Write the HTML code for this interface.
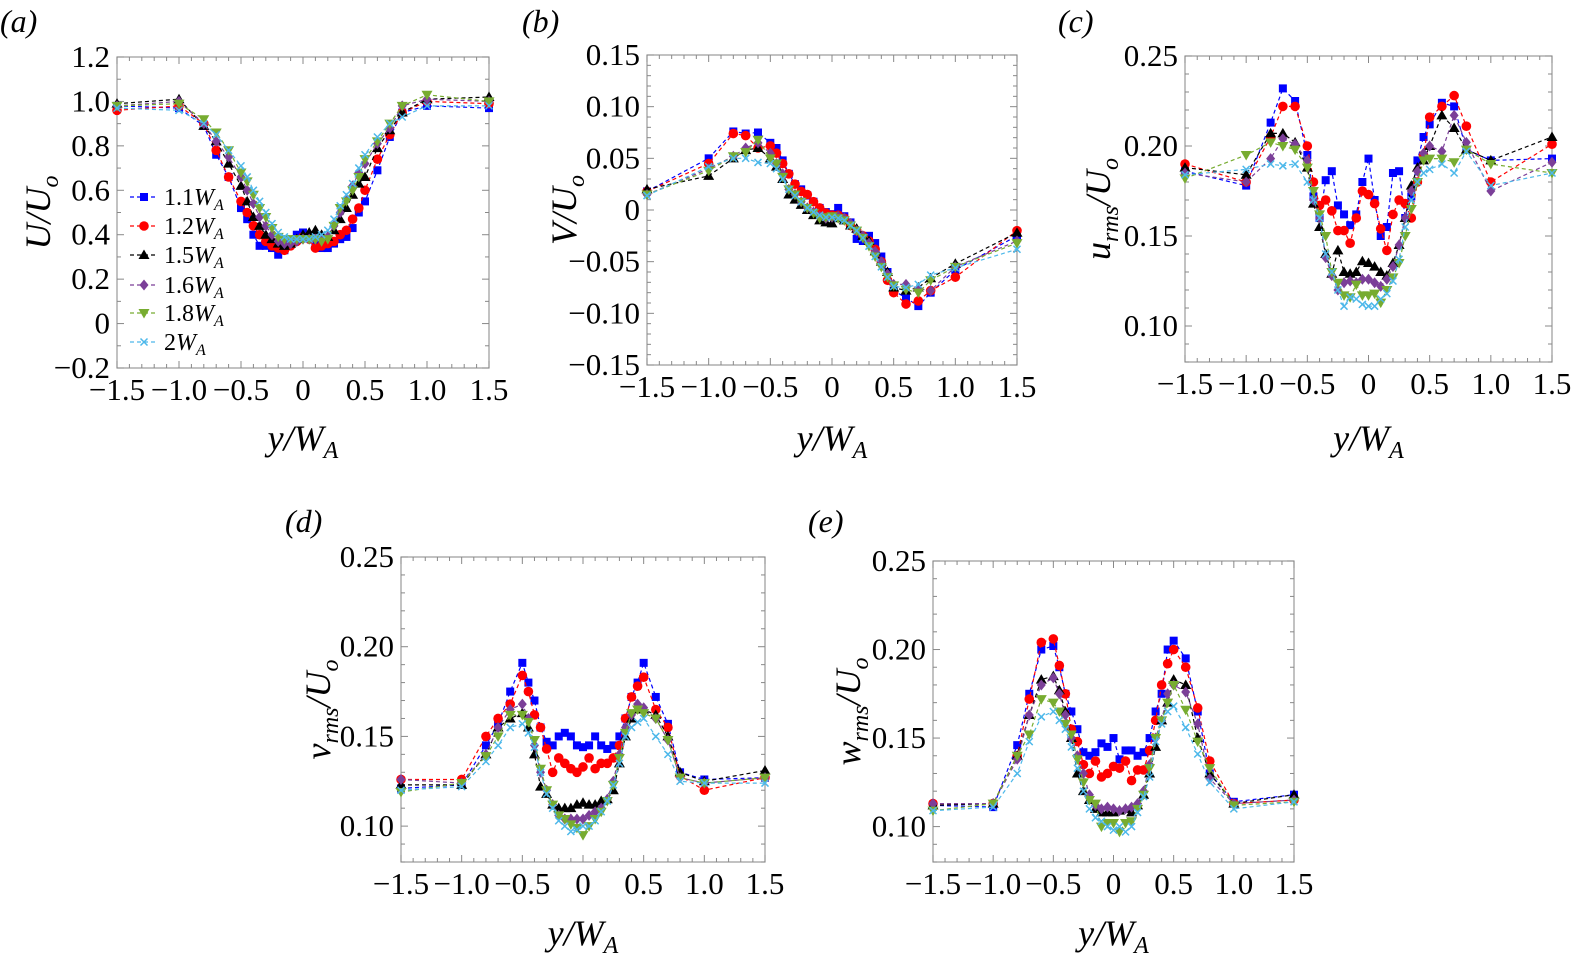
<!DOCTYPE html>
<html><head><meta charset="utf-8"><style>
html,body{margin:0;padding:0;background:#fff;}
svg{display:block;}
svg text{font-family:"Liberation Serif","DejaVu Serif",serif;}
</style></head><body>
<svg id="fig" width="1575" height="968" viewBox="0 0 1575 968" font-family="Liberation Serif, serif"></svg>
<script>
const xs=[-1.5,-1,-0.8,-0.7,-0.6,-0.5,-0.45,-0.4,-0.35,-0.3,-0.25,-0.2,-0.15,-0.1,-0.05,0,0.05,0.1,0.15,0.2,0.25,0.3,0.35,0.4,0.45,0.5,0.6,0.7,0.8,1.0,1.5];
const seriesNames=["1.1","1.2","1.5","1.6","1.8","2"];
const xTickLabels=["\u22121.5","\u22121.0","\u22120.5","0","0.5","1.0","1.5"];
const xTickValues=[-1.5,-1,-0.5,0,0.5,1,1.5];
// panel a: U/Uo
const aBlue=[.98,.97,.89,.76,.66,.52,.47,.40,.35,.35,.34,.31,.33,.36,.40,.41,.39,.36,.34,.34,.36,.38,.39,.43,.50,.55,.69,.84,.95,.98,.97];
const aRed=[.96,.98,.90,.78,.66,.55,.50,.44,.40,.37,.35,.34,.33,.35,.37,.39,.38,.34,.35,.36,.37,.40,.42,.47,.52,.60,.74,.85,.95,1.0,.99];
const aBlack=[.99,1.01,.89,.82,.72,.62,.55,.48,.44,.40,.38,.36,.35,.36,.38,.40,.41,.42,.40,.39,.42,.47,.52,.58,.63,.66,.79,.87,.95,1.01,1.02];
const aPurple=[.98,1.0,.90,.82,.75,.66,.60,.54,.48,.44,.40,.37,.36,.36,.37,.38,.38,.38,.38,.39,.44,.50,.56,.62,.68,.72,.81,.88,.98,1.01,1.0];
const aGreen=[.98,.99,.92,.86,.78,.68,.64,.58,.52,.48,.43,.39,.38,.38,.38,.38,.38,.38,.37,.38,.44,.52,.55,.60,.66,.74,.82,.90,.98,1.03,1.0];
const aCyan=[.97,.96,.90,.85,.78,.71,.66,.60,.55,.50,.45,.41,.39,.38,.38,.38,.38,.39,.40,.42,.47,.53,.58,.63,.70,.76,.84,.90,.93,.98,.98];
const aTicks=[-0.2,0,0.2,0.4,0.6,0.8,1.0,1.2];
const aTickLabels=["\u22120.2","0","0.2","0.4","0.6","0.8","1.0","1.2"];
// panel b: V/Uo
const bBlue=[.018,.050,.076,.074,.075,.065,.060,.048,.035,.025,.020,.014,.008,.002,-.002,-.004,.002,-.006,-.012,-.028,-.030,-.025,-.032,-.045,-.060,-.078,-.085,-.093,-.080,-.058,-.025];
const bRed=[.018,.045,.074,.072,.060,.062,.055,.045,.035,.025,.018,.015,.008,.002,-.003,-.005,-.005,-.008,-.015,-.020,-.025,-.030,-.038,-.050,-.068,-.080,-.091,-.088,-.078,-.065,-.020];
const bBlack=[.020,.033,.050,.058,.060,.050,.042,.030,.015,.010,.005,.000,-.005,-.010,-.012,-.013,-.008,-.010,-.015,-.018,-.025,-.030,-.040,-.050,-.060,-.075,-.078,-.075,-.066,-.052,-.022];
const bPurple=[.015,.040,.052,.060,.065,.055,.045,.035,.020,.015,.008,.002,-.002,-.006,-.008,-.007,-.006,-.008,-.013,-.020,-.025,-.032,-.040,-.050,-.062,-.072,-.072,-.076,-.078,-.055,-.030];
const bGreen=[.015,.038,.052,.056,.068,.050,.045,.032,.020,.015,.008,.002,-.003,-.008,-.007,-.006,-.008,-.010,-.015,-.020,-.027,-.035,-.045,-.055,-.065,-.073,-.077,-.080,-.068,-.055,-.032];
const bCyan=[.014,.042,.050,.050,.046,.045,.040,.030,.020,.014,.008,.002,-.002,-.005,-.007,-.007,-.008,-.010,-.015,-.020,-.027,-.035,-.045,-.055,-.065,-.074,-.075,-.072,-.063,-.056,-.038];
const bTicks=[-0.15,-0.10,-0.05,0,0.05,0.10,0.15];
const bTickLabels=["\u22120.15","\u22120.10","\u22120.05","0","0.05","0.10","0.15"];
// panel c: urms/Uo
const cBlue=[.186,.178,.213,.232,.225,.195,.172,.160,.181,.186,.167,.162,.156,.162,.180,.193,.170,.150,.155,.185,.186,.160,.172,.192,.205,.212,.224,.222,.198,.192,.193];
const cRed=[.190,.180,.205,.222,.222,.200,.180,.167,.170,.164,.153,.153,.146,.160,.175,.173,.168,.154,.142,.162,.170,.168,.160,.180,.195,.216,.222,.228,.211,.180,.201];
const cBlack=[.188,.184,.207,.207,.202,.188,.168,.155,.140,.129,.142,.130,.129,.130,.136,.135,.133,.130,.128,.135,.145,.160,.178,.188,.192,.200,.217,.210,.198,.192,.205];
const cPurple=[.185,.180,.193,.204,.201,.192,.170,.160,.138,.128,.120,.124,.125,.124,.126,.126,.124,.122,.126,.133,.145,.160,.175,.186,.196,.200,.197,.217,.202,.175,.191];
const cGreen=[.182,.195,.202,.200,.198,.188,.175,.162,.150,.130,.124,.117,.116,.123,.117,.117,.118,.113,.120,.127,.135,.150,.165,.180,.192,.193,.193,.191,.198,.190,.185];
const cCyan=[.184,.187,.190,.189,.190,.180,.170,.160,.140,.130,.120,.111,.116,.115,.112,.111,.111,.115,.118,.125,.137,.155,.170,.180,.185,.187,.190,.185,.197,.178,.185];
const rmsTicks=[0.10,0.15,0.20,0.25];
const rmsTickLabels=["0.10","0.15","0.20","0.25"];
// panel d: vrms/Uo
const dBlue=[.121,.123,.145,.157,.175,.191,.180,.170,.155,.147,.145,.150,.152,.150,.145,.144,.145,.150,.145,.143,.145,.150,.160,.172,.180,.191,.172,.157,.130,.126,.127];
const dRed=[.126,.126,.150,.160,.168,.184,.175,.162,.155,.143,.130,.138,.135,.132,.130,.133,.138,.132,.135,.135,.138,.145,.160,.172,.178,.183,.165,.155,.128,.120,.127];
const dBlack=[.123,.123,.140,.155,.160,.163,.155,.140,.122,.118,.112,.110,.110,.110,.112,.113,.112,.112,.114,.115,.120,.135,.150,.160,.165,.165,.162,.150,.130,.125,.131];
const dPurple=[.126,.124,.140,.155,.165,.168,.160,.145,.130,.120,.112,.106,.104,.104,.104,.104,.106,.108,.110,.115,.125,.140,.155,.162,.168,.166,.160,.148,.127,.124,.127];
const dGreen=[.119,.124,.139,.150,.162,.162,.158,.148,.132,.120,.112,.106,.104,.101,.099,.095,.100,.104,.108,.114,.123,.138,.152,.163,.165,.163,.160,.148,.127,.124,.127];
const dCyan=[.120,.122,.136,.145,.155,.157,.152,.144,.130,.118,.110,.103,.100,.097,.098,.100,.100,.103,.108,.114,.123,.135,.150,.155,.158,.160,.150,.140,.125,.124,.124];
// panel e: wrms/Uo
const eBlue=[.112,.111,.146,.175,.200,.202,.190,.175,.165,.155,.142,.140,.142,.147,.145,.150,.138,.143,.143,.140,.142,.150,.165,.175,.200,.205,.195,.165,.130,.114,.118];
const eRed=[.113,.113,.140,.172,.204,.206,.191,.175,.155,.148,.135,.130,.137,.128,.130,.134,.133,.137,.126,.132,.132,.143,.160,.180,.192,.200,.190,.167,.137,.113,.115];
const eBlack=[.112,.113,.140,.163,.183,.185,.177,.165,.150,.130,.120,.115,.110,.108,.108,.108,.109,.110,.108,.112,.118,.130,.145,.160,.170,.183,.180,.150,.130,.113,.118];
const ePurple=[.113,.113,.138,.163,.180,.184,.175,.163,.150,.140,.130,.118,.112,.110,.111,.110,.109,.110,.111,.113,.120,.135,.150,.160,.175,.180,.176,.158,.127,.113,.115];
const eGreen=[.109,.113,.140,.152,.172,.170,.165,.158,.152,.138,.125,.115,.113,.100,.102,.102,.097,.102,.103,.110,.118,.133,.150,.160,.170,.180,.166,.148,.133,.112,.114];
const eCyan=[.109,.111,.130,.148,.162,.165,.160,.155,.145,.133,.120,.110,.105,.103,.100,.098,.100,.097,.100,.108,.117,.128,.148,.158,.165,.168,.156,.141,.125,.110,.114];

const NS="http://www.w3.org/2000/svg";
const svg=document.getElementById('fig');
const FONT="Liberation Serif, DejaVu Serif, serif";
const colors=["#0000ff","#ff0000","#000000","#7b3f98","#77ac30","#4db8ea"];
const markers=["square","circle","triangle","diamond","tri-down","cross"];
function mk(tag,attrs,parent){const e=document.createElementNS(NS,tag);for(const k in attrs)e.setAttribute(k,attrs[k]);if(tag==='text')e.setAttribute('font-family',FONT);(parent||svg).appendChild(e);return e;}
function marker(g,type,x,y,c){
  let e;
  if(type==="square")e=mk('rect',{x:x-4,y:y-4,width:8,height:8,fill:c},g);
  else if(type==="circle")e=mk('circle',{cx:x,cy:y,r:4.8,fill:c},g);
  else if(type==="triangle")e=mk('polygon',{points:`${x},${y-5.5} ${x+5.5},${y+4} ${x-5.5},${y+4}`,fill:c},g);
  else if(type==="diamond")e=mk('polygon',{points:`${x},${y-5.5} ${x+4.5},${y} ${x},${y+5.5} ${x-4.5},${y}`,fill:c},g);
  else if(type==="tri-down")e=mk('polygon',{points:`${x-5.5},${y-4} ${x+5.5},${y-4} ${x},${y+5.5}`,fill:c},g);
  else e=mk('path',{d:`M${x-3.5},${y-3.5}L${x+3.5},${y+3.5}M${x-3.5},${y+3.5}L${x+3.5},${y-3.5}`,stroke:c,'stroke-width':1.5,fill:'none'},g);
  
  
  return e;
}
function panel(cfg){
  const g=mk('g',{});
  
  
  const sx=v=>cfg.L+(v-(-1.5))/3*(cfg.R-cfg.L);
  const sy=v=>cfg.B-(v-cfg.ymin)/(cfg.ymax-cfg.ymin)*(cfg.B-cfg.T);
  const box=mk('rect',{x:cfg.L,y:cfg.T,width:cfg.R-cfg.L,height:cfg.B-cfg.T,fill:'none',stroke:'#999','stroke-width':1.2},g);
  
  
  for(let i=0;i<=30;i++){const v=-1.5+i*0.1;const x=sx(v);const len=(i%5===0)?7:4;
    mk('line',{x1:x,y1:cfg.B,x2:x,y2:cfg.B-len,stroke:'#888','stroke-width':1},g);
    mk('line',{x1:x,y1:cfg.T,x2:x,y2:cfg.T+len,stroke:'#888','stroke-width':1},g);}
  xTickValues.forEach((v,i)=>{const t=mk('text',{x:sx(v),y:cfg.B+32,'text-anchor':'middle','font-size':31},g);t.textContent=xTickLabels[i];
    
    });
  const step=cfg.minor;
  for(let v=cfg.ymin;v<=cfg.ymax+1e-9;v+=step){const y=sy(v);const isMaj=cfg.ticks.some(t=>Math.abs(t-v)<1e-6);const len=isMaj?7:4;
    mk('line',{x1:cfg.L,y1:y,x2:cfg.L+len,y2:y,stroke:'#888','stroke-width':1},g);
    mk('line',{x1:cfg.R,y1:y,x2:cfg.R-len,y2:y,stroke:'#888','stroke-width':1},g);}
  cfg.ticks.forEach((v,i)=>{const t=mk('text',{x:cfg.L-7,y:sy(v)+10,'text-anchor':'end','font-size':31},g);t.textContent=cfg.tickLabels[i];
    
    });
  cfg.data.forEach((arr,si)=>{
    const sg=mk('g',{},g);
    
    
    const pts=arr.map((v,i)=>sx(xs[i]).toFixed(1)+','+sy(v).toFixed(1)).join(' ');
    mk('polyline',{points:pts,fill:'none',stroke:colors[si],'stroke-width':1.2,'stroke-dasharray':'4,3'},sg);
    arr.forEach((v,i)=>marker(sg,markers[si],sx(xs[i]),sy(v),colors[si]));
  });
  const xt=mk('text',{x:(cfg.L+cfg.R)/2,y:cfg.xtY,'text-anchor':'middle','font-size':36,'font-style':'italic'},g);
  xt.innerHTML='y/W<tspan font-size="24" dy="8">A</tspan>';
  
  
  const yt=mk('text',{x:0,y:0,'text-anchor':'middle','font-size':36,'font-style':'italic',transform:`translate(${cfg.ytX},${(cfg.T+cfg.B)/2}) rotate(-90)`},g);
  yt.innerHTML=cfg.ytitle;
  
  
  const pl=mk('text',{x:cfg.plX,y:cfg.plY,'font-size':32,'font-style':'italic'},g);
  pl.textContent='('+cfg.id+')';
  
  
  return {g,sx,sy};
}
const sub='<tspan font-size="24" dy="8">o</tspan>';
const rms=c=>c+'<tspan font-size="24" dy="8">rms</tspan><tspan dy="-8">/U</tspan>'+sub;
panel({id:'a',L:117,R:489,T:57,B:368,ymin:-0.2,ymax:1.2,minor:0.1,ticks:aTicks,tickLabels:aTickLabels,data:[aBlue,aRed,aBlack,aPurple,aGreen,aCyan],xtY:450,ytX:50,ytitle:'U/U'+sub,plX:0,plY:32});
panel({id:'b',L:647,R:1017,T:55,B:365,ymin:-0.15,ymax:0.15,minor:0.01,ticks:bTicks,tickLabels:bTickLabels,data:[bBlue,bRed,bBlack,bPurple,bGreen,bCyan],xtY:450,ytX:576,ytitle:'V/U'+sub,plX:522,plY:32});
panel({id:'c',L:1185,R:1552,T:56,B:362,ymin:0.08,ymax:0.25,minor:0.01,ticks:rmsTicks,tickLabels:rmsTickLabels,data:[cBlue,cRed,cBlack,cPurple,cGreen,cCyan],xtY:450,ytX:1110,ytitle:rms('u'),plX:1058,plY:32});
panel({id:'d',L:401,R:765,T:557,B:862,ymin:0.08,ymax:0.25,minor:0.01,ticks:rmsTicks,tickLabels:rmsTickLabels,data:[dBlue,dRed,dBlack,dPurple,dGreen,dCyan],xtY:945,ytX:330,ytitle:rms('v'),plX:285,plY:532});
panel({id:'e',L:933,R:1294,T:561,B:862,ymin:0.08,ymax:0.25,minor:0.01,ticks:rmsTicks,tickLabels:rmsTickLabels,data:[eBlue,eRed,eBlack,ePurple,eGreen,eCyan],xtY:945,ytX:860,ytitle:rms('w'),plX:808,plY:532});
const lg=mk('g',{});


const legY=[197,226,255,285,313,342];
seriesNames.forEach((n,i)=>{
  const eg=mk('g',{},lg);
  
  
  mk('line',{x1:130,y1:legY[i],x2:158,y2:legY[i],stroke:colors[i],'stroke-width':1.2,'stroke-dasharray':'4,3'},eg);
  marker(eg,markers[i],144,legY[i],colors[i]);
  const t=mk('text',{x:164,y:legY[i]+8,'font-size':24},eg);
  t.innerHTML=n+'<tspan font-style="italic">W</tspan><tspan font-style="italic" font-size="16" dy="5">A</tspan>';
});
</script>
</body></html>
